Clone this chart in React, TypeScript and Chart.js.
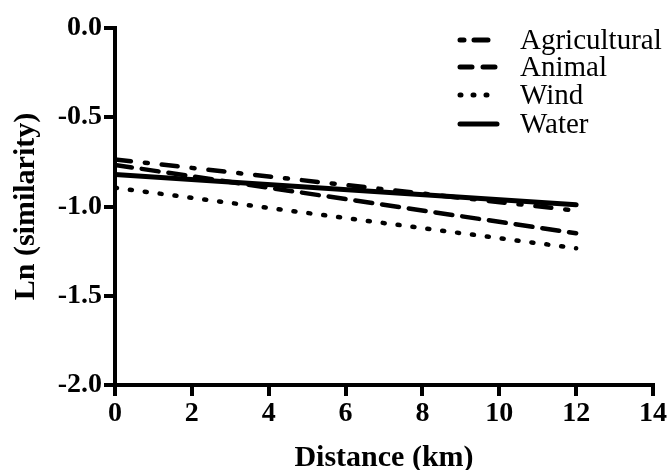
import React, { useEffect, useRef } from "react";
import { Chart, registerables } from "chart.js";

Chart.register(...registerables);

const seriesNames = ["Agricultural", "Animal", "Wind", "Water"];
const xValues = [0, 12];
const agricultural = [-0.736, -1.023];
const animal = [-0.767, -1.15];
const wind = [-0.895, -1.234];
const water = [-0.82, -0.99];
const xTicks = [0, 2, 4, 6, 8, 10, 12, 14];
const yTicks = [-2.0, -1.5, -1.0, -0.5, 0.0];

const dashes: number[][] = [
  [16, 14, 3, 14],
  [17, 10],
  [2, 13],
  [],
];

const FONT = "'Liberation Serif', 'Times New Roman', serif";

const legendPlugin = {
  id: "customLegend",
  afterDraw(chart: any) {
    const ctx = chart.ctx;
    ctx.save();
    const rowsY = [40, 67, 95, 124];
    chart.data.datasets.forEach((ds: any, i: number) => {
      const y = rowsY[i];
      ctx.beginPath();
      ctx.strokeStyle = "#000";
      ctx.lineWidth = 5;
      ctx.lineCap = "round";
      const legendDash = [[4, 10, 14, 10], [12, 11], [1, 12], []][i];
      ctx.setLineDash(legendDash);
      ctx.moveTo(460, y);
      ctx.lineTo(497, y);
      ctx.stroke();
      ctx.setLineDash([]);
      ctx.fillStyle = "#000";
      ctx.font = `29px ${FONT}`;
      ctx.textBaseline = "middle";
      ctx.textAlign = "left";
      ctx.fillText(ds.label, 520, y + 1);
    });
    ctx.restore();
  },
};

export default function App() {
  const ref = useRef<HTMLCanvasElement>(null);
  useEffect(() => {
    const series = [agricultural, animal, wind, water];
    const chart = new Chart(ref.current!, {
      type: "line",
      data: {
        datasets: seriesNames.map((name, i) => ({
          label: name,
          data: xValues.map((x, j) => ({ x, y: series[i][j] })),
          borderColor: "#000",
          borderWidth: i === 3 ? 5 : 4.5,
          borderDash: dashes[i],
          borderCapStyle: "round" as const,
          pointRadius: 0,
          fill: false,
        })),
      },
      options: {
        animation: false,
        responsive: false,
        layout: { padding: { top: 28, right: 15, left: 0, bottom: 0 } },
        plugins: { legend: { display: false }, tooltip: { enabled: false } },
        scales: {
          x: {
            type: "linear",
            min: 0,
            max: 14,
            afterFit: (s: any) => {
              s.height = 85;
            },
            afterBuildTicks: (s: any) => {
              s.ticks = xTicks.map((v) => ({ value: v }));
            },
            ticks: {
              color: "#000",
              font: { family: FONT, size: 28, weight: "bold" },
              padding: 1,
              maxRotation: 0,
              autoSkip: false,
              callback: (v: any) => String(v),
            },
            grid: {
              drawOnChartArea: false,
              drawTicks: true,
              tickLength: 11,
              lineWidth: 4,
              color: "#000",
            },
            border: { display: true, width: 4, color: "#000" },
            title: {
              display: true,
              text: "Distance (km)",
              color: "#000",
              font: { family: FONT, size: 30, weight: "bold", lineHeight: 0.8 },
              padding: { top: 0, bottom: 0 },
            },
          },
          y: {
            type: "linear",
            min: -2,
            max: 0,
            afterFit: (s: any) => {
              s.width = 115;
            },
            afterBuildTicks: (s: any) => {
              s.ticks = yTicks.map((v) => ({ value: v }));
            },
            ticks: {
              color: "#000",
              font: { family: FONT, size: 28, weight: "bold" },
              padding: 2,
              autoSkip: false,
              callback: (v: any) => Number(v).toFixed(1),
            },
            grid: {
              drawOnChartArea: false,
              drawTicks: true,
              tickLength: 11,
              lineWidth: 4,
              color: "#000",
            },
            border: { display: true, width: 4, color: "#000" },
            title: {
              display: true,
              text: "Ln (similarity)",
              color: "#000",
              font: { family: FONT, size: 30, weight: "bold", lineHeight: 1 },
              padding: { top: 11, bottom: 0 },
            },
          },
        },
      },
      plugins: [legendPlugin],
    } as any);
    return () => chart.destroy();
  }, []);
  return (
    <div style={{ position: "absolute", left: 0, top: 0, width: 668, height: 470, background: "#fff" }}>
      <canvas ref={ref} width={668} height={470} />
    </div>
  );
}
